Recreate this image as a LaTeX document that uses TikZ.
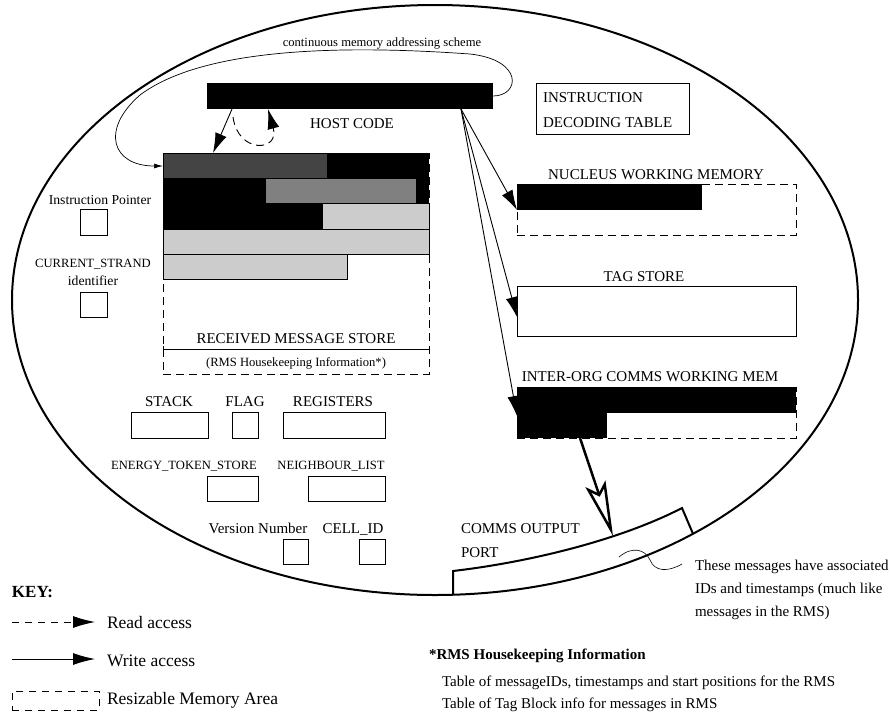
\documentclass[tikz,border=0pt]{standalone}
\usepackage{fontspec}
\setmainfont{Liberation Serif}
\usetikzlibrary{arrows.meta,calc}
\definecolor{dgrey}{HTML}{444444}
\definecolor{mgrey}{HTML}{808080}
\definecolor{lgrey}{HTML}{CCCCCC}
\begin{document}
\begin{tikzpicture}[x=1pt,y=-1pt,
 every node/.style={inner sep=0pt,outer sep=0pt},
 fA/.style={font=\fontsize{15}{18}\selectfont},
 fB/.style={font=\fontsize{12.6}{15}\selectfont},
 fC/.style={font=\fontsize{13.7}{16}\selectfont},
 fK/.style={font=\fontsize{17.5}{20}\selectfont},
 wh/.style 2 args={minimum width=#1pt,minimum height=#2pt},
 box/.style={draw,line width=0.9pt,anchor=north west},
 dbox/.style={draw,line width=0.9pt,dash pattern=on 8pt off 5pt,anchor=north west},
 blk/.style={fill=black,anchor=north west},
 bar/.style={draw,line width=0.7pt,anchor=north west},
 wr/.style={line width=0.9pt,-{Latex[length=20pt,width=12pt]}},
 rd/.style={line width=0.9pt,dash pattern=on 8pt off 5pt,-{Latex[length=20pt,width=12pt]}},
]
\useasboundingbox (0,0) rectangle (893,713);

% outer cell
\draw[line width=2pt] (435,300) ellipse [x radius=423pt, y radius=295pt];

% comms output port
\coordinate (portL) at (453,594.7);
\coordinate (portA) at (453,571);
\coordinate (portB) at (682,508);
\coordinate (portR) at (693,533.8);
\coordinate (portin) at (613,536);
\draw[line width=2pt] (portL) -- (portA) .. controls (530,562) and (620,540) .. (portB) -- (portR);
\node[fA,anchor=base west] (cop1) at (461,533) {COMMS OUTPUT};
\node[fA,anchor=base west] (cop2) at (461,557) {PORT};

% host code
\node[blk,wh={286}{26}] (host) at (207,83) {};
\node[fA,anchor=base] (hostlbl) at (352,128) {HOST CODE};
\node[fB,anchor=base] (cmas) at (382,46) {continuous memory addressing scheme};

% instruction decoding table
\node[box,wh={153}{51}] (idt) at (536,83) {};
\node[fA,anchor=base west] (idt1) at (543,102) {INSTRUCTION};
\node[fA,anchor=base west] (idt2) at (543,127) {DECODING TABLE};

% received message store
\node[dbox,wh={266}{221}] (rms) at (163,153) {};
\fill (163,153) rectangle (429,229);
\node[bar,fill=dgrey,wh={164}{25}] (r1) at (163,153) {};
\node[bar,fill=mgrey,wh={151}{25}] (r2) at (265,178) {};
\node[bar,fill=lgrey,wh={107}{26}] (r3) at (322,203) {};
\node[bar,fill=lgrey,wh={266}{25}] (r4) at (163,229) {};
\node[bar,fill=lgrey,wh={184}{25}] (r5) at (163,254) {};
\draw[line width=0.8pt] (163,349) -- (429,349);
\draw[line width=0.8pt] (163,346) -- (163,352) (429,346) -- (429,352);
\node[fA,anchor=base] (rmslbl) at (296,343) {RECEIVED MESSAGE STORE};
\node[fB,anchor=base] (rmshk) at (296,366) {(RMS Housekeeping Information*)};

% left registers
\node[fC,anchor=base] (iplbl) at (100,204) {Instruction Pointer};
\node[box,wh={27}{26}] (ip) at (80,209) {};
\node[fB,anchor=base] (cslbl) at (93,267) {CURRENT\_STRAND};
\node[fC,anchor=base] (cslbl2) at (93,285) {identifier};
\node[box,wh={27}{25}] (cs) at (80,292) {};

\node[fA,anchor=base] (stlbl) at (169,406) {STACK};
\node[box,wh={77}{26}] (stack) at (131,412) {};
\node[fA,anchor=base] (fllbl) at (245,406) {FLAG};
\node[box,wh={26}{26}] (flag) at (232,412) {};
\node[fA,anchor=base] (rglbl) at (333,406) {REGISTERS};
\node[box,wh={102}{26}] (reg) at (283,412) {};
\node[fB,anchor=base] (etlbl) at (184,469) {ENERGY\_TOKEN\_STORE};
\node[box,wh={51}{25}] (ets) at (207,476) {};
\node[fB,anchor=base] (nllbl) at (331,469) {NEIGHBOUR\_LIST};
\node[box,wh={77}{25}] (nl) at (308,476) {};
\node[fA,anchor=base] (vnlbl) at (258,533) {Version Number};
\node[box,wh={25}{25}] (vn) at (283,539) {};
\node[fA,anchor=base] (cilbl) at (353,533) {CELL\_ID};
\node[box,wh={26}{25}] (cid) at (359,539) {};

% nucleus working memory
\node[fA,anchor=base] (nwmlbl) at (656,179) {NUCLEUS WORKING MEMORY};
\node[dbox,wh={279}{51}] (nwm) at (517,184) {};
\node[blk,wh={185}{26}] (nwmbar) at (517,184) {};

% tag store
\node[fA,anchor=base] (tslbl) at (644,281) {TAG STORE};
\node[box,wh={279}{50}] (tag) at (517,286) {};

% inter-org comms
\node[fA,anchor=base] (ioclbl) at (650,381) {INTER-ORG COMMS WORKING MEM};
\node[dbox,wh={279}{51}] (ioc) at (517,387) {};
\node[blk,wh={279}{26}] (ioc1) at (517,387) {};
\node[blk,wh={90}{25}] (ioc2) at (517,413) {};

% connectors
\draw[line width=0.7pt,-{Latex[length=9pt,width=5pt]}] (host.east) .. controls (520,96) and (524,60) .. (470,54) .. controls (330,44) and (200,50) .. (140,95) .. controls (100,130) and (112,166) .. ($(rms.north west)+(0,13)$);
\draw[wr] ($(host.south west)+(25,0)$) -- ($(rms.north west)+(50,0)$);
\draw[rd] ($(host.south west)+(26,8)$) .. controls (238,154) and (280,152) .. ($(host.south west)+(61,0)$);
\coordinate (hs) at (461,109);
\draw[wr] (hs) -- (nwmbar.south west);
\draw[wr] (hs) -- ($(tag.west)+(0,6)$);
\draw[wr] (hs) -- ($(ioc2.north west)+(0,3)$);
\draw[line width=2.5pt,-{Stealth[open,length=55pt,width=21pt,inset=10pt]}] ($(ioc2.south west)+(63,0)$) -- (portin);

% note on port
\draw[line width=0.6pt] (619,557) .. controls (632,546) and (645,549) .. (650,560) .. controls (655,572) and (668,572) .. (682,564);
\node[fA,anchor=base west] (n1) at (695,570) {These messages have associated};
\node[fA,anchor=base west] (n2) at (695,593) {IDs and timestamps (much like};
\node[fA,anchor=base west] (n3) at (695,616) {messages in the RMS)};

% key
\node[font=\fontsize{17}{20}\selectfont\bfseries,anchor=base west] (key) at (12,597) {KEY:};
\coordinate (k1a) at (12,622); \coordinate (k1b) at (95,622);
\draw[line width=0.9pt,dash pattern=on 7pt off 6pt,-{Latex[length=22pt,width=12pt]}] (k1a) -- (k1b);
\node[fK,anchor=base west] (kr) at (107,628) {Read access};
\coordinate (k2a) at (12,659); \coordinate (k2b) at (95,659);
\draw[wr,-{Latex[length=22pt,width=12pt]}] (k2a) -- (k2b);
\node[fK,anchor=base west] (kw) at (107,666) {Write access};
\node[draw,line width=0.9pt,dash pattern=on 7pt off 6pt,anchor=north west,wh={87}{19}] (kbox) at (12,691) {};
\node[fK,anchor=base west] (kb) at (107,704) {Resizable Memory Area};

% housekeeping note
\node[font=\fontsize{15}{18}\selectfont\bfseries,anchor=base west] (hk) at (429,659) {*RMS Housekeeping Information};
\node[fA,anchor=base west] (hk1) at (442,686) {Table of messageIDs, timestamps and start positions for the RMS};
\node[fA,anchor=base west] (hk2) at (442,708) {Table of Tag Block info for messages in RMS};
\end{tikzpicture}
\end{document}
